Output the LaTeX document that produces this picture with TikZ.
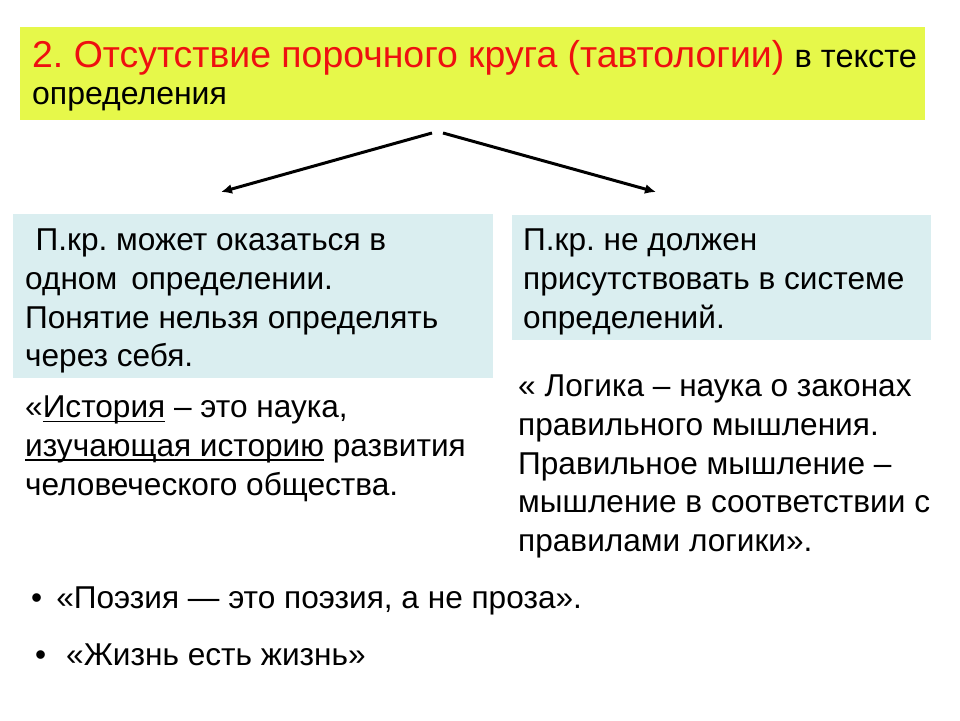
\documentclass[tikz,border=0pt]{standalone}
\usepackage{fontspec}
\setmainfont{Liberation Sans}
\usetikzlibrary{arrows.meta}
\definecolor{titlebg}{RGB}{230,248,74}
\definecolor{boxbg}{RGB}{218,238,240}
\definecolor{titlered}{RGB}{238,16,16}
\newcommand\myul[1]{\setbox0\hbox{#1}\rlap{\rule[-4pt]{\wd0}{1.3pt}}\box0\relax}
\frenchspacing
\tikzset{
  bodytext/.style={anchor=north west, inner sep=0pt, align=left,
    font=\fontsize{31.6}{38.6}\selectfont},
  titletext/.style={anchor=base west, inner sep=0pt},
  conn/.style={line width=3pt, -{Latex[length=11pt,width=10pt]}},
}
\begin{document}
\begin{tikzpicture}[x=1pt,y=-1pt]
\useasboundingbox (0,0) rectangle (960,720);
% title
\fill[titlebg] (20,27) rectangle (925,120);
\node (title) [titletext] at (32,67)
  {\fontsize{37.4}{40}\selectfont\textcolor{titlered}{2. Отсутствие порочного круга (тавтологии)}\ \fontsize{32.5}{40}\selectfont в тексте};
\node (title2) [titletext, font=\fontsize{32}{38}\selectfont] at (32,104) {определения};
% boxes
\fill[boxbg] (13,214) rectangle (493,378);
\fill[boxbg] (512,215) rectangle (931,340);
\node (lbox) [bodytext] at (25,229) {\,\,П.кр. может оказаться в\\одном \,определении.\\Понятие нельзя определять\\через себя.};
\node (rbox) [bodytext] at (523,229) {П.кр. не должен\\присутствовать в системе\\определений.};
% quotes
\node (lq) [bodytext] at (25,396) {«\myul{История} – это наука,\\\myul{изучающая историю} развития\\человеческого общества.};
\node (rq) [bodytext] at (518,375) {« Логика – наука о законах\\правильного мышления.\\Правильное мышление –\\мышление в соответствии с\\правилами логики».};
% bullets
\node (b1) [bodytext] at (31,587) {•\hspace{14pt}«Поэзия — это поэзия, а не проза».};
\node (b2) [bodytext] at (35,644) {•\hspace{20pt}«Жизнь есть жизнь»};
% arrows
\coordinate (s1) at (432,133);
\coordinate (e1) at (221,192);
\coordinate (s2) at (443,133);
\coordinate (e2) at (656,192);
\draw[conn] (s1) -- (e1);
\draw[conn] (s2) -- (e2);
\end{tikzpicture}
\end{document}
